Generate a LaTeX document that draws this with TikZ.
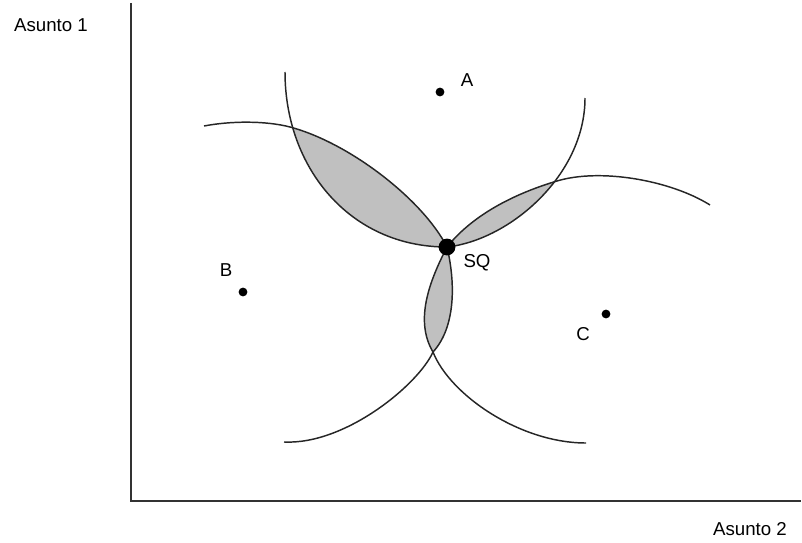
\documentclass[tikz,border=0pt]{standalone}
\usepackage{fontspec}
\setmainfont{Liberation Sans}
\usepackage{tikz}
\usetikzlibrary{positioning, calc}

\definecolor{lensgray}{RGB}{192,192,192}

% indifference curves round A, B and C (all through SQ)
\newcommand{\curveA}{(a1) .. controls (285,168) and (350,247) .. (SQ) .. controls (510,240) and (585,175) .. (a2)}
\newcommand{\curveB}{(b1) .. controls (230,121) and (265,120.5) .. (P1) .. controls (350,143) and (423,200) .. (SQ) .. controls (456,285) and (455,328) .. (P2) .. controls (418,385) and (345,445) .. (b2)}
\newcommand{\curveC}{(c1) .. controls (670,180) and (600,168) .. (P3) .. controls (520,192) and (475,212) .. (SQ) .. controls (430,280) and (414,320) .. (P2) .. controls (450,395) and (520,443) .. (c2)}

\tikzset{
    curve/.style={line width=1.1pt, color=black!85},
    axis/.style={line width=1.5pt, color=black!80},
    lbl/.style={font=\fontsize{14}{16}\selectfont, inner sep=0pt}
}

\begin{document}
\begin{tikzpicture}[x=0.75pt, y=-0.75pt]
    \useasboundingbox (0,0) rectangle (802,542);

    % ==========================================
    % Points
    % ==========================================
    \coordinate (A)  at (440,92);
    \coordinate (B)  at (243,292);
    \coordinate (C)  at (606,314);
    \coordinate (SQ) at (447,247);

    % curve ends and crossings
    \coordinate (a1) at (285,72);
    \coordinate (a2) at (585,98);
    \coordinate (b1) at (204,126);
    \coordinate (b2) at (284,442);
    \coordinate (c1) at (710,205);
    \coordinate (c2) at (586,443);
    \coordinate (P1) at (290,127);
    \coordinate (P2) at (433,352);
    \coordinate (P3) at (557,181);

    % ==========================================
    % Win sets (shaded lenses)
    % ==========================================
    \begin{scope}
        \clip \curveA -- cycle;
        \fill[lensgray] \curveB -- cycle;
    \end{scope}
    \begin{scope}
        \clip \curveA -- cycle;
        \fill[lensgray] \curveC -- cycle;
    \end{scope}
    \begin{scope}
        \clip \curveB -- cycle;
        \fill[lensgray] \curveC -- cycle;
    \end{scope}

    % Curves
    \draw[curve] \curveA;
    \draw[curve] \curveB;
    \draw[curve] \curveC;

    % ==========================================
    % Axes
    % ==========================================
    \coordinate (ytop) at (131,3);
    \coordinate (orig) at (131,501);
    \coordinate (xend) at (801,501);
    \draw[axis] (ytop) -- (orig) -- (xend);

    \node[lbl] (ylab) at (51,25) {Asunto 1};
    \node[lbl] (xlab) at (750,529) {Asunto 2};

    % Ideal points and status quo
    \fill (A) circle[radius=3.3pt];
    \fill (B) circle[radius=3.3pt];
    \fill (C) circle[radius=3.3pt];
    \fill (SQ) circle[radius=6.3pt];

    \node[lbl] (labA)  at (467,80)  {A};
    \node[lbl] (labB)  at (226,270) {B};
    \node[lbl] (labC)  at (583,334) {C};
    \node[lbl] (labSQ) at (477,263) {SQ};

\end{tikzpicture}
\end{document}
